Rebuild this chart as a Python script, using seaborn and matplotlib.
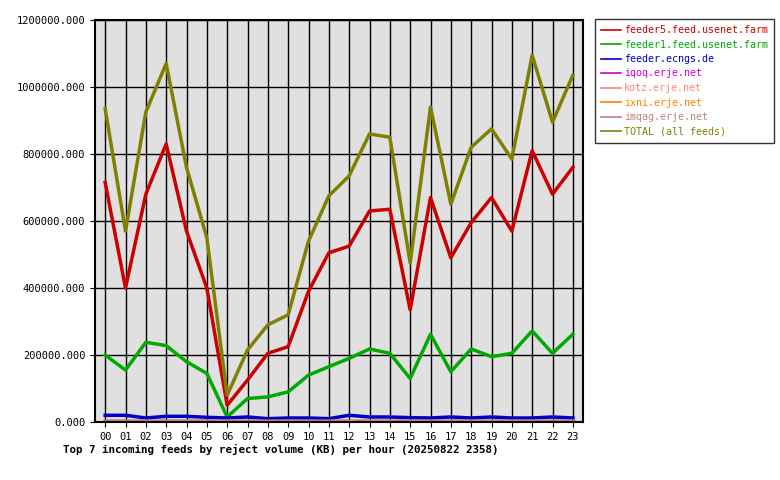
import matplotlib
matplotlib.use("Agg")
import matplotlib.pyplot as plt
import seaborn as sns
import pandas as pd

hours = [f"{h:02d}" for h in range(24)]
feeder5 = [715e3,400e3,680e3,830e3,570e3,400e3,50e3,125e3,205e3,225e3,390e3,505e3,525e3,630e3,635e3,335e3,670e3,490e3,595e3,670e3,570e3,810e3,680e3,760e3]
feeder1 = [200e3,155e3,238e3,228e3,180e3,145e3,15e3,70e3,75e3,90e3,140e3,165e3,190e3,218e3,205e3,130e3,262e3,150e3,218e3,195e3,205e3,272e3,205e3,262e3]
ecngs = [20e3,20e3,12e3,17e3,17e3,14e3,12e3,15e3,10e3,12e3,12e3,10e3,20e3,15e3,15e3,13e3,12e3,15e3,12e3,15e3,12e3,12e3,15e3,12e3]
iqoq = [2e3]*24
kotz = [2e3]*24
ixni = [2e3]*24
imqag = [2e3]*24
total = [935e3,570e3,925e3,1070e3,760e3,550e3,80e3,215e3,290e3,320e3,540e3,675e3,735e3,860e3,850e3,475e3,940e3,650e3,820e3,875e3,785e3,1095e3,895e3,1035e3]

series = [("feeder5.feed.usenet.farm", feeder5, "#cc0000"),
          ("feeder1.feed.usenet.farm", feeder1, "#00aa00"),
          ("feeder.ecngs.de", ecngs, "#0000cc"),
          ("iqoq.erje.net", iqoq, "#cc00cc"),
          ("kotz.erje.net", kotz, "#ff8080"),
          ("ixni.erje.net", ixni, "#ff8000"),
          ("imqag.erje.net", imqag, "#c08080"),
          ("TOTAL (all feeds)", total, "#808000")]

plt.rcParams["font.family"] = "DejaVu Sans Mono"
fig = plt.figure(figsize=(7.8, 4.8), dpi=100)
ax = fig.add_axes([95/780, 58/480, 488/780, 402/480])
ax.set_facecolor("#e0e0e0")
x = list(range(24))
for name, vals, col in series:
    df = pd.DataFrame({"x": x, "y": vals})
    sns.lineplot(data=df, x="x", y="y", ax=ax, color=col, lw=2.5, label=name)
ax.set_xlim(-0.5, 23.5)
ax.set_ylim(0, 1200000)
ax.set_xticks(x)
ax.set_xticklabels(hours, fontsize=7.5)
yt = list(range(0, 1200001, 200000))
ax.set_yticks(yt)
ax.set_yticklabels([f"{v}.000" for v in yt], fontsize=7.5)
ax.grid(True, color="black", lw=1)
ax.set_axisbelow(True)
ax.set_xlabel("Top 7 incoming feeds by reject volume (KB) per hour (20250822 2358)",
              fontsize=7.8, fontweight="bold", loc="left", labelpad=4)
ax.xaxis.set_label_coords(-0.065, -0.055)
ax.set_ylabel("")
for s in ax.spines.values():
    s.set_linewidth(1.5)
leg = fig.legend(*ax.get_legend_handles_labels(), loc="upper left",
                 bbox_to_anchor=(595/780, 1 - 19/480), fontsize=7.2, frameon=True,
                 fancybox=False, edgecolor="black", handlelength=2.0, labelspacing=0.45,
                 handletextpad=0.3, borderaxespad=0, borderpad=0.6)
ax.get_legend().remove()
for t, (_, _, c) in zip(leg.get_texts(), series):
    t.set_color(c)
for l in leg.get_lines():
    l.set_linewidth(1.2)
fig.savefig("out.png", dpi=100)
